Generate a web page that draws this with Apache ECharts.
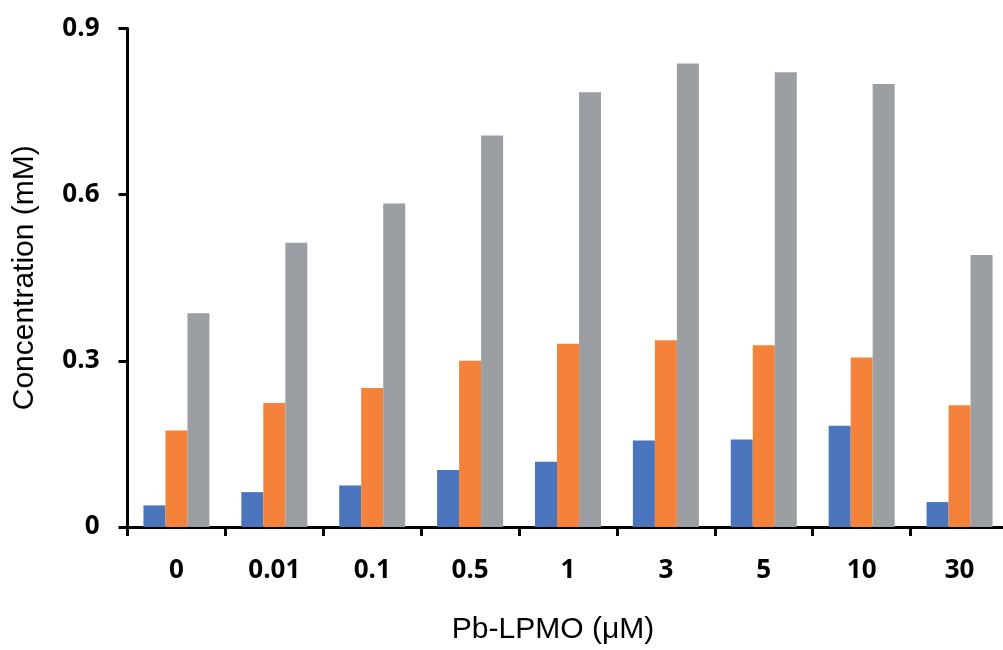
<!DOCTYPE html>
<html>
<head>
<meta charset="utf-8">
<script src="https://cdn.jsdelivr.net/npm/echarts@6/dist/echarts.min.js"></script>
<style>html,body{margin:0;padding:0;background:#fff;overflow:hidden}#c{width:1010px;height:650px}</style>
</head>
<body>
<div id="c"></div>
<script>
const categories = ['0', '0.01', '0.1', '0.5', '1', '3', '5', '10', '30'];
const seriesBlue = [0.039, 0.063, 0.075, 0.103, 0.118, 0.156, 0.158, 0.183, 0.045];
const seriesOrange = [0.174, 0.224, 0.251, 0.300, 0.331, 0.337, 0.328, 0.306, 0.220];
const seriesGray = [0.386, 0.513, 0.584, 0.707, 0.785, 0.837, 0.821, 0.800, 0.491];
const yTicks = [0, 0.3, 0.6, 0.9];

const chart = echarts.init(document.getElementById('c'), null, {renderer: 'canvas'});
const barStyle = (color, data) => ({
  type: 'bar', data: data, barWidth: 22, barGap: '0%',
  itemStyle: {color: color},
  emphasis: {disabled: true}
});
chart.setOption({
  animation: false,
  grid: {left: 127.5, right: 1.5, top: 28.5, bottom: 119, containLabel: false},
  xAxis: {
    type: 'category', data: categories,
    name: 'Pb-LPMO (\u03bcM)', nameLocation: 'middle', nameGap: 88,
    nameTextStyle: {fontFamily: 'Liberation Sans', fontSize: 30, color: '#000', padding: [0, 30, 0, 0]},
    axisLine: {lineStyle: {color: '#000', width: 3}},
    axisTick: {show: true, length: 9, lineStyle: {color: '#000', width: 3}},
    axisLabel: {margin: 31, fontFamily: 'Open Sans', fontWeight: 'bold', fontSize: 26, color: '#000'}
  },
  yAxis: {
    type: 'value', min: 0, max: 0.9, interval: 0.3,
    name: 'Concentration (mM)', nameLocation: 'middle', nameGap: 88,
    nameTextStyle: {fontFamily: 'Liberation Sans', fontSize: 30, color: '#000'},
    axisLine: {show: true, lineStyle: {color: '#000', width: 3}},
    axisTick: {show: true, length: 9, lineStyle: {color: '#000', width: 3}},
    splitLine: {show: false},
    axisLabel: {
      margin: 28, fontFamily: 'Open Sans', fontWeight: 'bold', fontSize: 26, color: '#000',
      formatter: v => { const t = yTicks.find(x => Math.abs(x - v) < 1e-9); return t === undefined ? '' : String(t); }
    }
  },
  series: [
    barStyle('#4a74bc', seriesBlue),
    barStyle('#f4823b', seriesOrange),
    barStyle('#9b9ea2', seriesGray)
  ]
});
</script>
</body>
</html>
